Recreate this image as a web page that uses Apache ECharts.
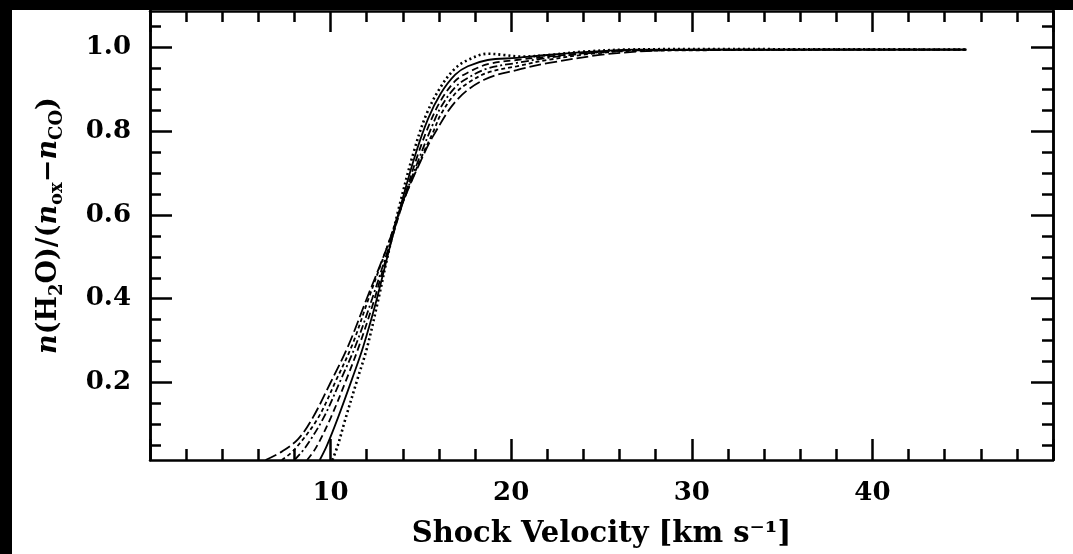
<!DOCTYPE html>
<html>
<head>
<meta charset="utf-8">
<script src="https://cdn.jsdelivr.net/npm/echarts@6.0.0/dist/echarts.min.js"></script>
<style>
html,body{margin:0;padding:0;background:#fff;}
#chart{width:1073px;height:554px;}
</style>
</head>
<body>
<div id="chart"></div>
<script>
// ---- data ----
const xLabels = [10, 20, 30, 40];
const yMajorTicks = [0.2, 0.4, 0.6, 0.8, 1.0];
const yMinorTicks = [0.05, 0.1, 0.15, 0.25, 0.3, 0.35, 0.45, 0.5, 0.55, 0.65, 0.7, 0.75, 0.85, 0.9, 0.95, 1.05];

const curveDotted = [[10.1,0.015],[10.4,0.05],[10.8,0.11],[11.5,0.21],[12.0,0.28],[12.6,0.39],[13.2,0.51],[13.8,0.62],[14.6,0.75],[15.3,0.84],[16.1,0.906],[16.9,0.95],[17.6,0.970],[18.7,0.985],[19.6,0.982],[20.5,0.978],[22.1,0.982],[24.0,0.99],[26.5,0.995],[30,0.996],[45.2,0.995]];
const curveSolid = [[9.4,0.015],[9.8,0.05],[10.4,0.115],[11.2,0.21],[11.8,0.285],[12.5,0.39],[13.2,0.51],[13.9,0.625],[14.7,0.745],[15.4,0.83],[16.1,0.89],[16.9,0.935],[17.6,0.955],[18.7,0.97],[20.3,0.975],[22.0,0.982],[24.5,0.99],[27,0.995],[45.2,0.995]];
const curveDashed = [[8.7,0.015],[9.2,0.045],[10.0,0.115],[10.9,0.21],[11.6,0.29],[12.4,0.395],[13.2,0.515],[14.0,0.63],[14.8,0.74],[15.5,0.82],[16.1,0.873],[16.9,0.92],[17.6,0.94],[18.7,0.96],[20.3,0.97],[22.0,0.978],[24.5,0.988],[27,0.994],[45.2,0.995]];
const curveDashDot = [[8.0,0.015],[8.6,0.045],[9.6,0.115],[10.6,0.21],[11.4,0.29],[12.3,0.40],[13.2,0.52],[14.0,0.63],[14.9,0.735],[15.6,0.81],[16.1,0.857],[16.9,0.905],[17.6,0.927],[18.7,0.95],[20.3,0.963],[22.0,0.975],[24.5,0.987],[27,0.993],[45.2,0.995]];
const curveShortDash = [[7.3,0.015],[8.0,0.04],[9.3,0.115],[10.3,0.205],[11.2,0.29],[12.1,0.40],[13.1,0.52],[14.0,0.63],[15.0,0.735],[15.7,0.80],[16.1,0.84],[16.9,0.89],[17.6,0.915],[18.7,0.94],[20.3,0.955],[22.0,0.97],[24.5,0.985],[27,0.992],[45.2,0.995]];
const curveLongDash = [[6.4,0.015],[7.3,0.035],[8.2,0.065],[9.0,0.115],[10.0,0.2],[11.0,0.29],[12.0,0.40],[13.1,0.52],[14.0,0.63],[15.0,0.73],[15.7,0.79],[17.0,0.875],[18.5,0.923],[20.3,0.946],[22.1,0.963],[24.9,0.982],[27,0.99],[30,0.995],[45.2,0.995]];

const X_MIN = 0, X_MAX = 50, Y_MIN = 0.015, Y_MAX = 1.087;

// ---- styles ----
const FONT = 'DejaVu Serif';
const black = '#000';
const lineW = 2.5;

function xAxisCfg(pos, showLabel) {
  return {
    type: 'value', position: pos, min: X_MIN, max: X_MAX, interval: 10,
    axisLine: { show: true, onZero: false, lineStyle: { color: black, width: lineW } },
    axisTick: { show: true, inside: true, length: 21, lineStyle: { color: black, width: lineW } },
    minorTick: { show: true, splitNumber: 5, length: 11, lineStyle: { color: black, width: lineW } },
    splitLine: { show: false }, minorSplitLine: { show: false },
    axisLabel: {
      show: showLabel, margin: 20, color: black, fontFamily: FONT, fontWeight: 'bold', fontSize: 26,
      formatter: v => (xLabels.indexOf(v) >= 0 ? String(v) : '')
    }
  };
}
function yAxisCfg(pos, values, len, showLabel) {
  return {
    type: 'value', position: pos, min: Y_MIN, max: Y_MAX,
    axisLine: { show: true, onZero: false, lineStyle: { color: black, width: lineW } },
    axisTick: { show: true, inside: true, length: len, customValues: values, lineStyle: { color: black, width: lineW } },
    splitLine: { show: false },
    axisLabel: {
      show: showLabel, customValues: values, margin: 19, color: black, fontFamily: FONT, fontWeight: 'bold', fontSize: 26,
      formatter: v => v.toFixed(1)
    }
  };
}

const xBottom = xAxisCfg('bottom', true);
xBottom.name = 'Shock Velocity [km s\u207B\u00B9]';
xBottom.nameLocation = 'middle';
xBottom.nameGap = 60;
xBottom.nameTextStyle = { color: black, fontFamily: FONT, fontWeight: 'bold', fontSize: 29 };

const yLeft = yAxisCfg('left', yMajorTicks, 22, true);
yLeft.name = '{i|n}{r|(H}{s|2}{r|O)/(}{i|n}{s|ox}{r|\u2212}{i|n}{s|CO}{r|)}';
yLeft.nameLocation = 'middle';
yLeft.nameGap = 84;
yLeft.nameRotate = 90;
yLeft.nameTextStyle = {
  color: black, fontFamily: FONT, fontWeight: 'bold', fontSize: 27,
  padding: [0, 0, 0, 20],
  rich: {
    r: { fontFamily: FONT, fontWeight: 'bold', fontSize: 27, color: black, lineHeight: 34 },
    i: { fontFamily: FONT, fontWeight: 'bold', fontStyle: 'italic', fontSize: 27, color: black, lineHeight: 34 },
    s: { fontFamily: FONT, fontWeight: 'bold', fontSize: 18, color: black, lineHeight: 34, verticalAlign: 'bottom', padding: [16, 0, 0, 0] }
  }
};

const mkSeries = (name, data, type, width) => ({
  name, type: 'line', data, xAxisIndex: 0, yAxisIndex: 0,
  showSymbol: false, smooth: 0.35, silent: true,
  lineStyle: { color: black, width: width, type: type }
});

const option = {
  backgroundColor: '#fff',
  animation: false,
  grid: { left: 150, right: 20, top: 11, bottom: 94, containLabel: false },
  xAxis: [xBottom, xAxisCfg('top', false)],
  yAxis: [
    yLeft,
    yAxisCfg('left', yMinorTicks, 11, false),
    yAxisCfg('right', yMajorTicks, 22, false),
    yAxisCfg('right', yMinorTicks, 11, false)
  ],
  series: [
    mkSeries('a', curveDotted, [2, 3], 2.6),
    mkSeries('b', curveSolid, 'solid', 1.8),
    mkSeries('c', curveDashed, [7, 4], 1.8),
    mkSeries('d', curveDashDot, [8, 3, 2, 3], 1.8),
    mkSeries('e', curveShortDash, [4, 3], 1.8),
    mkSeries('f', curveLongDash, [12, 4], 1.8)
  ],
  graphic: [
    { type: 'rect', left: 0, top: 0, z: 100, shape: { width: 1073, height: 10 }, style: { fill: '#000' } },
    { type: 'rect', left: 0, top: 0, z: 100, shape: { width: 12, height: 554 }, style: { fill: '#000' } }
  ]
};

const chart = echarts.init(document.getElementById('chart'), null, { renderer: 'canvas' });
chart.setOption(option);
</script>
</body>
</html>
